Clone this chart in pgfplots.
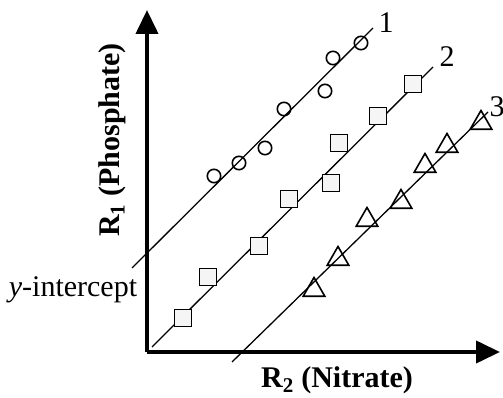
\documentclass[border=0pt]{standalone}
\usepackage{fontspec}
\setmainfont{Liberation Serif}
\usepackage{pgfplots}
\pgfplotsset{compat=1.18}
\usetikzlibrary{arrows.meta}
\begin{document}
\begin{tikzpicture}
\path[use as bounding box] (-147pt,-46pt) rectangle (356pt,352pt);
\begin{axis}[
  x=1pt, y=1pt,
  xmin=0, xmax=353, ymin=0, ymax=342,
  axis lines=left,
  axis line style={line width=4pt},
  x axis line style={-{Triangle[width=22pt,length=24pt]}},
  y axis line style={-{Triangle[width=22pt,length=24pt]}},
  xtick=\empty, ytick=\empty,
  clip=false,
  scale only axis,
]
% fitted lines
\addplot[black, line width=1.3pt] coordinates {(-15,84) (226,324)};
\addplot[black, line width=1.3pt] coordinates {(5,5) (286,285)};
\addplot[black, line width=1.3pt] coordinates {(85,-10) (341,240)};
% series 1: circles
\addplot[only marks, mark=o, mark size=6.7pt, mark options={black, line width=1.6pt}] coordinates {
 (67,176) (92,189) (118,204) (137,243) (178,261) (186,294) (214,309)};
% series 2: squares
\addplot[only marks, mark=square*, mark size=8.5pt, mark options={draw=black, fill=gray!8, line width=1.6pt}] coordinates {
 (36,34) (61,75) (112,106) (142,153) (184,169) (192,209) (231,236) (266,268)};
% series 3: triangles
\addplot[only marks, mark=triangle, mark size=12.5pt, mark options={black, line width=1.6pt}] coordinates {
 (167,62) (191,93) (220,132) (254,150) (278,186) (300,206) (334,229)};
% labels
\node[font=\fontsize{30}{36}\selectfont] at (axis cs:239,329) {1};
\node[font=\fontsize{30}{36}\selectfont] at (axis cs:300,295) {2};
\node[font=\fontsize{30}{36}\selectfont] at (axis cs:350,245) {3};
\node[font=\fontsize{30}{36}\selectfont\bfseries, rotate=90] at (axis cs:-35,212) {R\textsubscript{1} (Phosphate)};
\node[font=\fontsize{30}{36}\selectfont\bfseries] at (axis cs:190,-28) {R\textsubscript{2} (Nitrate)};
\node[font=\fontsize{30}{36}\selectfont] at (axis cs:-74,62) {\textit{y}-intercept};
\end{axis}
\end{tikzpicture}
\end{document}
